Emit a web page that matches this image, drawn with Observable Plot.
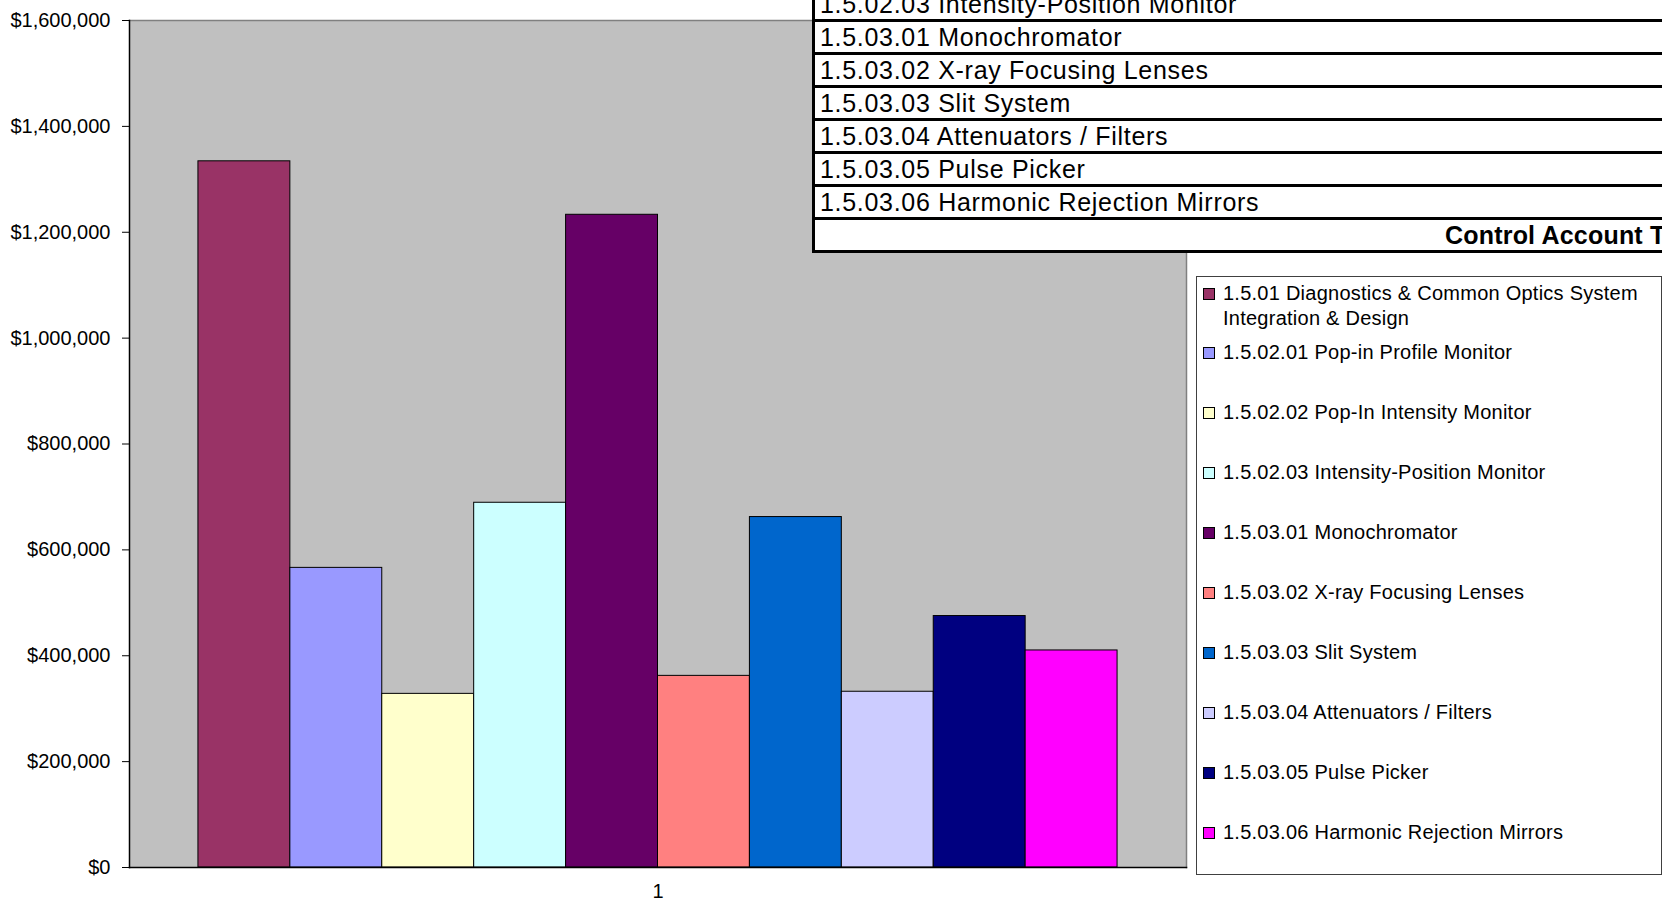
<!DOCTYPE html>
<html>
<head>
<meta charset="utf-8">
<script src="https://cdn.jsdelivr.net/npm/d3@7"></script>
<script src="https://cdn.jsdelivr.net/npm/@observablehq/plot@0.6"></script>
<style>
  html, body { margin: 0; padding: 0; background: #fff; overflow: hidden; }
  #wrap { position: relative; width: 1662px; height: 901px; overflow: hidden; font-family: "Liberation Sans", Arial, sans-serif; }
  #chart { position: absolute; left: 0; top: 0; }
  #table { position: absolute; left: 812px; top: -14px; width: 1000px; border-left: 3px solid #000; border-bottom: 3px solid #000; background: #fff; }
  #table .row { height: 30px; border-top: 3px solid #000; font-size: 25px; line-height: 30px; padding-left: 5px; letter-spacing: 0.7px; white-space: nowrap; color: #000; }
  #table .row.total { font-weight: bold; padding-left: 630px; letter-spacing: 0.2px; }
  #legend { position: absolute; left: 1196px; top: 276px; width: 464px; height: 597px; border: 1px solid #404040; background: #fff; }
  #legend .item { position: absolute; left: 0; width: 464px; font-size: 20px; line-height: 25px; letter-spacing: 0.25px; color: #000; }
  #legend .sw { position: absolute; left: 6px; top: 7px; width: 10px; height: 10px; border: 1px solid #000; }
  #legend .tx { position: absolute; left: 26px; top: 0; width: 437px; }
</style>
</head>
<body>
<div id="wrap">
  <div id="chart"></div>
  <div id="table"></div>
  <div id="legend"></div>
</div>
<script>
// ---- data ----
const categories = ["1"];
const series = [
  "1.5.01 Diagnostics & Common Optics System Integration & Design",
  "1.5.02.01 Pop-in Profile Monitor",
  "1.5.02.02 Pop-In Intensity Monitor",
  "1.5.02.03 Intensity-Position Monitor",
  "1.5.03.01 Monochromator",
  "1.5.03.02 X-ray Focusing Lenses",
  "1.5.03.03 Slit System",
  "1.5.03.04 Attenuators / Filters",
  "1.5.03.05 Pulse Picker",
  "1.5.03.06 Harmonic Rejection Mirrors"
];
const values = [1334000, 566000, 328000, 689000, 1233000, 362000, 662000, 332000, 475000, 410000];
const colors = ["#993366", "#9999FF", "#FFFFCC", "#CCFFFF", "#660066", "#FF8080", "#0066CC", "#CCCCFF", "#000080", "#FF00FF"];
const yTicks = [0, 200000, 400000, 600000, 800000, 1000000, 1200000, 1400000, 1600000];
const tableRows = [
  "1.5.02.03 Intensity-Position Monitor",
  "1.5.03.01 Monochromator",
  "1.5.03.02 X-ray Focusing Lenses",
  "1.5.03.03 Slit System",
  "1.5.03.04 Attenuators / Filters",
  "1.5.03.05 Pulse Picker",
  "1.5.03.06 Harmonic Rejection Mirrors"
];
const tableTotal = "Control Account Total";

const data = series.map((s, i) => ({cat: categories[0], series: s, value: values[i]}));
const money = d3.format(",");

const chart = Plot.plot({
  width: 1662,
  height: 901,
  marginLeft: 129,
  marginTop: 20,
  marginRight: 476,
  marginBottom: 34,
  style: {fontFamily: "'Liberation Sans', Arial, sans-serif", fontSize: "20px", color: "#000", background: "transparent"},
  fx: {domain: categories, padding: 0, round: false},
  x: {domain: series, paddingInner: 0, paddingOuter: 0.75, round: false, axis: null},
  y: {domain: [0, 1600000]},
  color: {domain: series, range: colors},
  marks: [
    Plot.frame({fill: "#c0c0c0", stroke: null}),
    Plot.barY(data, {fx: "cat", x: "series", y: "value", fill: "series", stroke: "#000", strokeWidth: 1, inset: 0}),
    Plot.frame({anchor: "top", stroke: "#808080", strokeWidth: 1.5}),
    Plot.frame({anchor: "right", stroke: "#808080", strokeWidth: 1.5}),
    Plot.frame({anchor: "left", stroke: "#000", strokeWidth: 1.5}),
    Plot.frame({anchor: "bottom", stroke: "#000", strokeWidth: 1.5}),
    Plot.axisY({ticks: yTicks, tickFormat: d => "$" + money(d), tickSize: 7, tickPadding: 12, fontSize: 20, label: null, stroke: "#000"}),
    Plot.axisFx({anchor: "bottom", tickSize: 0, tickPadding: 16, fontSize: 20, label: null})
  ]
});
document.getElementById("chart").appendChild(chart);

// ---- overlapping table ----
const table = document.getElementById("table");
tableRows.forEach(t => {
  const r = document.createElement("div");
  r.className = "row";
  r.textContent = t;
  table.appendChild(r);
});
const tr = document.createElement("div");
tr.className = "row total";
tr.textContent = tableTotal;
table.appendChild(tr);

// ---- legend ----
const legend = document.getElementById("legend");
series.forEach((s, i) => {
  const it = document.createElement("div");
  it.className = "item";
  it.style.top = (i === 0 ? 4 : 63 + 60 * (i - 1)) + "px";
  const sw = document.createElement("div");
  sw.className = "sw";
  sw.style.background = colors[i];
  const tx = document.createElement("div");
  tx.className = "tx";
  tx.textContent = s;
  it.appendChild(sw);
  it.appendChild(tx);
  legend.appendChild(it);
});
</script>
</body>
</html>
